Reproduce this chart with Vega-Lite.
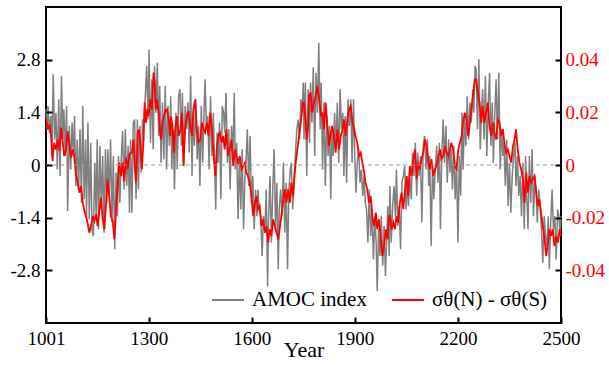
{
"$schema": "https://vega.github.io/schema/vega-lite/v6.json",
"width": 515, "height": 316,
"autosize": {"type": "none"},
"padding": {"left": 46, "top": 7, "right": 48, "bottom": 42},
"config": {"view": {"stroke": "black", "strokeWidth": 2}, "font": "Liberation Serif"},
"datasets": {
"amoc": [
{"t":1001,"v":1.48},{"t":1004,"v":0.95},{"t":1007,"v":1.57},{"t":1011,"v":0.86},{"t":1015,"v":1.30},{"t":1018,"v":0.24},{"t":1022,"v":2.41},{"t":1026,"v":0.68},{"t":1030,"v":1.39},{"t":1034,"v":-0.12},{"t":1038,"v":1.75},{"t":1042,"v":-0.29},{"t":1046,"v":2.37},{"t":1050,"v":0.68},{"t":1053,"v":1.48},{"t":1057,"v":0.24},{"t":1061,"v":1.57},{"t":1064,"v":-1.22},{"t":1069,"v":1.04},{"t":1073,"v":-0.12},{"t":1077,"v":1.13},{"t":1081,"v":0.24},{"t":1084,"v":1.30},{"t":1088,"v":-0.56},{"t":1092,"v":0.68},{"t":1096,"v":-0.65},{"t":1100,"v":0.95},{"t":1104,"v":-1.00},{"t":1108,"v":1.57},{"t":1112,"v":-0.91},{"t":1116,"v":0.68},{"t":1119,"v":-1.36},{"t":1123,"v":1.13},{"t":1127,"v":-1.44},{"t":1131,"v":0.59},{"t":1135,"v":-1.71},{"t":1139,"v":-1.89},{"t":1143,"v":0.06},{"t":1147,"v":-1.36},{"t":1150,"v":0.68},{"t":1154,"v":-1.71},{"t":1158,"v":0.51},{"t":1162,"v":-1.18},{"t":1166,"v":0.24},{"t":1170,"v":-1.80},{"t":1174,"v":0.42},{"t":1178,"v":-1.00},{"t":1181,"v":0.42},{"t":1185,"v":-0.82},{"t":1189,"v":0.68},{"t":1193,"v":-1.53},{"t":1197,"v":0.24},{"t":1201,"v":-2.24},{"t":1205,"v":-0.20},{"t":1209,"v":-1.36},{"t":1212,"v":0.24},{"t":1216,"v":-1.00},{"t":1220,"v":0.15},{"t":1224,"v":0.90},{"t":1228,"v":-0.65},{"t":1232,"v":0.95},{"t":1236,"v":-0.56},{"t":1240,"v":0.51},{"t":1244,"v":-1.27},{"t":1247,"v":0.68},
{"t":1251,"v":-1.27},{"t":1255,"v":1.13},{"t":1259,"v":1.21},{"t":1263,"v":-0.91},{"t":1267,"v":1.21},{"t":1270,"v":-0.65},{"t":1274,"v":1.04},{"t":1278,"v":-0.20},{"t":1282,"v":1.21},{"t":1286,"v":1.13},{"t":1290,"v":1.83},{"t":1294,"v":2.63},{"t":1298,"v":1.21},{"t":1301,"v":3.07},{"t":1305,"v":0.59},{"t":1309,"v":2.28},{"t":1313,"v":0.42},{"t":1317,"v":2.63},{"t":1321,"v":1.39},{"t":1325,"v":2.72},{"t":1329,"v":0.77},{"t":1332,"v":2.10},{"t":1336,"v":0.06},{"t":1340,"v":1.66},{"t":1344,"v":0.15},{"t":1348,"v":2.10},{"t":1352,"v":-0.12},{"t":1356,"v":1.57},{"t":1360,"v":0.51},{"t":1364,"v":1.83},{"t":1367,"v":-0.12},{"t":1371,"v":0.95},{"t":1375,"v":-0.65},{"t":1379,"v":1.39},{"t":1383,"v":-0.12},{"t":1387,"v":1.83},{"t":1391,"v":2.01},{"t":1395,"v":0.51},{"t":1398,"v":1.92},{"t":1402,"v":-0.03},{"t":1406,"v":1.57},{"t":1410,"v":0.95},{"t":1414,"v":1.66},{"t":1418,"v":0.33},{"t":1422,"v":2.37},{"t":1426,"v":-0.29},{"t":1429,"v":1.39},{"t":1433,"v":0.51},{"t":1437,"v":1.75},{"t":1441,"v":0.15},{"t":1445,"v":1.04},{"t":1449,"v":-0.56},{"t":1453,"v":1.57},{"t":1457,"v":0.06},{"t":1461,"v":1.39},{"t":1464,"v":2.28},{"t":1468,"v":0.95},{"t":1472,"v":1.30},{"t":1476,"v":-0.12},{"t":1480,"v":1.83},{"t":1484,"v":0.24},{"t":1488,"v":1.39},{"t":1492,"v":-0.03},{"t":1495,"v":-1.18},{"t":1499,"v":0.86},
{"t":1502,"v":0.06},{"t":1506,"v":1.13},{"t":1510,"v":-0.91},{"t":1514,"v":1.57},{"t":1518,"v":1.39},{"t":1521,"v":0.86},{"t":1525,"v":1.92},{"t":1529,"v":0.06},{"t":1533,"v":0.95},{"t":1537,"v":-0.65},{"t":1541,"v":1.04},{"t":1545,"v":0.24},{"t":1549,"v":1.92},{"t":1552,"v":-0.12},{"t":1556,"v":0.59},{"t":1560,"v":-1.44},{"t":1564,"v":0.24},{"t":1568,"v":-1.18},{"t":1572,"v":0.42},{"t":1576,"v":-1.71},{"t":1580,"v":-0.29},{"t":1583,"v":0.06},{"t":1587,"v":0.95},{"t":1591,"v":-0.56},{"t":1595,"v":0.77},{"t":1599,"v":-1.00},{"t":1603,"v":-0.29},{"t":1607,"v":-1.71},{"t":1611,"v":-0.65},{"t":1615,"v":-1.36},{"t":1618,"v":-0.65},{"t":1622,"v":-1.18},{"t":1626,"v":-1.36},{"t":1630,"v":-2.42},{"t":1634,"v":-1.36},{"t":1638,"v":-1.80},{"t":1642,"v":-0.65},{"t":1646,"v":-3.22},{"t":1649,"v":-1.36},{"t":1653,"v":-0.29},{"t":1657,"v":-2.06},{"t":1661,"v":-0.65},{"t":1665,"v":0.42},{"t":1669,"v":-1.71},{"t":1673,"v":-0.47},{"t":1677,"v":-2.77},{"t":1680,"v":-1.18},{"t":1684,"v":-0.65},{"t":1688,"v":-1.36},{"t":1692,"v":0.06},{"t":1696,"v":-1.80},{"t":1700,"v":-0.47},{"t":1704,"v":-2.77},{"t":1708,"v":-0.65},{"t":1712,"v":-0.12},{"t":1715,"v":0.06},{"t":1719,"v":-1.18},{"t":1723,"v":-0.47},{"t":1727,"v":0.33},{"t":1731,"v":0.95},{"t":1735,"v":1.21},{"t":1739,"v":0.68},{"t":1743,"v":1.75},{"t":1746,"v":1.39},{"t":1750,"v":2.19},
{"t":1752,"v":0.68},{"t":1756,"v":2.19},{"t":1760,"v":-0.29},{"t":1764,"v":2.01},{"t":1768,"v":0.59},{"t":1771,"v":2.19},{"t":1775,"v":1.13},{"t":1779,"v":2.59},{"t":1783,"v":0.24},{"t":1787,"v":2.45},{"t":1791,"v":1.39},{"t":1795,"v":3.25},{"t":1799,"v":0.95},{"t":1802,"v":2.19},{"t":1806,"v":-0.12},{"t":1810,"v":1.66},{"t":1814,"v":-0.56},{"t":1818,"v":1.30},{"t":1822,"v":0.24},{"t":1826,"v":1.04},{"t":1830,"v":-0.91},{"t":1833,"v":0.95},{"t":1837,"v":0.24},{"t":1841,"v":1.39},{"t":1845,"v":0.42},{"t":1849,"v":1.66},{"t":1853,"v":0.06},{"t":1857,"v":2.01},{"t":1861,"v":0.95},{"t":1865,"v":1.39},{"t":1868,"v":-0.29},{"t":1872,"v":1.30},{"t":1876,"v":-0.47},{"t":1880,"v":1.75},{"t":1884,"v":1.04},{"t":1888,"v":1.75},{"t":1892,"v":0.06},{"t":1896,"v":1.75},{"t":1899,"v":0.51},{"t":1903,"v":-0.74},{"t":1907,"v":0.06},{"t":1911,"v":0.42},{"t":1915,"v":-0.47},{"t":1919,"v":-0.12},{"t":1923,"v":-0.82},{"t":1927,"v":-0.29},{"t":1930,"v":-1.00},{"t":1934,"v":-1.18},{"t":1938,"v":-2.06},{"t":1942,"v":-0.65},{"t":1946,"v":-1.89},{"t":1950,"v":-1.18},{"t":1954,"v":-2.51},{"t":1958,"v":-1.36},{"t":1962,"v":-2.06},{"t":1965,"v":-3.35},{"t":1969,"v":-1.71},{"t":1973,"v":-2.42},{"t":1977,"v":-1.36},{"t":1981,"v":-2.68},{"t":1985,"v":-1.62},{"t":1989,"v":-2.95},{"t":1993,"v":-1.89},{"t":1996,"v":-1.09},{"t":2000,"v":-2.42},
{"t":2002,"v":-0.56},{"t":2006,"v":-2.06},{"t":2010,"v":-1.09},{"t":2014,"v":-0.56},{"t":2018,"v":-1.36},{"t":2021,"v":-0.12},{"t":2025,"v":-1.62},{"t":2029,"v":-1.09},{"t":2033,"v":-2.24},{"t":2037,"v":-0.47},{"t":2041,"v":-0.29},{"t":2045,"v":-0.03},{"t":2049,"v":-1.18},{"t":2052,"v":-0.47},{"t":2056,"v":-1.09},{"t":2060,"v":-0.29},{"t":2064,"v":-0.91},{"t":2068,"v":0.33},{"t":2072,"v":-0.29},{"t":2076,"v":0.59},{"t":2080,"v":-0.82},{"t":2083,"v":0.33},{"t":2087,"v":-0.29},{"t":2091,"v":0.24},{"t":2095,"v":-1.53},{"t":2099,"v":0.51},{"t":2103,"v":0.77},{"t":2107,"v":-0.12},{"t":2111,"v":0.68},{"t":2115,"v":-0.56},{"t":2118,"v":0.24},{"t":2122,"v":-2.15},{"t":2126,"v":-0.03},{"t":2130,"v":-0.91},{"t":2134,"v":-0.12},{"t":2138,"v":0.51},{"t":2142,"v":-0.47},{"t":2146,"v":0.59},{"t":2149,"v":-1.71},{"t":2153,"v":0.24},{"t":2157,"v":1.21},{"t":2161,"v":0.06},{"t":2165,"v":1.04},{"t":2169,"v":-0.47},{"t":2173,"v":0.68},{"t":2177,"v":-0.20},{"t":2180,"v":0.42},{"t":2184,"v":-0.65},{"t":2188,"v":0.51},{"t":2192,"v":-0.91},{"t":2196,"v":0.06},{"t":2200,"v":-2.06},{"t":2204,"v":0.24},{"t":2208,"v":-0.82},{"t":2212,"v":1.39},{"t":2215,"v":-0.12},{"t":2219,"v":1.30},{"t":2223,"v":0.51},{"t":2227,"v":1.83},{"t":2231,"v":0.68},{"t":2235,"v":1.66},{"t":2239,"v":1.13},{"t":2243,"v":2.01},{"t":2246,"v":1.39},{"t":2250,"v":2.63},
{"t":2253,"v":2.54},{"t":2257,"v":0.95},{"t":2261,"v":2.81},{"t":2265,"v":0.42},{"t":2269,"v":1.48},{"t":2272,"v":2.01},{"t":2276,"v":0.68},{"t":2280,"v":2.37},{"t":2284,"v":0.24},{"t":2288,"v":1.57},{"t":2292,"v":2.45},{"t":2296,"v":0.51},{"t":2300,"v":1.66},{"t":2303,"v":0.06},{"t":2307,"v":1.30},{"t":2311,"v":2.28},{"t":2315,"v":0.68},{"t":2319,"v":2.45},{"t":2323,"v":-0.12},{"t":2327,"v":0.95},{"t":2331,"v":0.24},{"t":2334,"v":0.59},{"t":2338,"v":-0.56},{"t":2342,"v":0.68},{"t":2346,"v":-1.09},{"t":2350,"v":0.06},{"t":2354,"v":-1.27},{"t":2358,"v":-0.29},{"t":2362,"v":0.24},{"t":2366,"v":0.59},{"t":2369,"v":-0.56},{"t":2373,"v":0.24},{"t":2377,"v":-0.82},{"t":2381,"v":-0.29},{"t":2385,"v":-1.36},{"t":2389,"v":0.06},{"t":2393,"v":-1.71},{"t":2397,"v":0.24},{"t":2400,"v":-0.74},{"t":2404,"v":-1.71},{"t":2408,"v":0.24},{"t":2412,"v":-1.00},{"t":2416,"v":0.42},{"t":2420,"v":-1.36},{"t":2424,"v":-0.29},{"t":2428,"v":-0.82},{"t":2431,"v":-1.53},{"t":2435,"v":-0.65},{"t":2439,"v":-1.09},{"t":2443,"v":-1.71},{"t":2447,"v":-2.60},{"t":2451,"v":-1.36},{"t":2455,"v":-1.89},{"t":2459,"v":-2.15},{"t":2463,"v":-1.36},{"t":2466,"v":-2.77},{"t":2470,"v":-1.53},{"t":2474,"v":-0.65},{"t":2478,"v":-1.71},{"t":2482,"v":-1.36},{"t":2486,"v":-2.51},{"t":2490,"v":-1.18},{"t":2494,"v":-1.36},{"t":2497,"v":-1.89},{"t":2500,"v":-1.36}
],
"sig": [
{"t":1001,"s":0.0180},{"t":1006,"s":0.0135},{"t":1011,"s":0.0154},{"t":1016,"s":0.0110},{"t":1020,"s":0.0015},{"t":1025,"s":0.0085},{"t":1030,"s":0.0059},{"t":1035,"s":0.0097},{"t":1040,"s":0.0053},{"t":1045,"s":0.0142},{"t":1050,"s":0.0085},{"t":1054,"s":0.0034},{"t":1059,"s":0.0059},{"t":1064,"s":0.0129},{"t":1069,"s":0.0072},{"t":1074,"s":0.0028},{"t":1079,"s":0.0059},{"t":1083,"s":0.0034},{"t":1088,"s":-0.0029},{"t":1093,"s":-0.0067},{"t":1098,"s":-0.0105},{"t":1103,"s":-0.0080},{"t":1108,"s":-0.0143},{"t":1113,"s":-0.0175},{"t":1117,"s":-0.0194},{"t":1122,"s":-0.0219},{"t":1127,"s":-0.0257},{"t":1132,"s":-0.0232},{"t":1137,"s":-0.0194},{"t":1142,"s":-0.0213},{"t":1147,"s":-0.0187},{"t":1151,"s":-0.0232},{"t":1156,"s":-0.0175},{"t":1161,"s":-0.0124},{"t":1166,"s":-0.0206},{"t":1171,"s":-0.0244},{"t":1176,"s":-0.0143},{"t":1180,"s":-0.0054},{"t":1185,"s":-0.0118},{"t":1190,"s":-0.0194},{"t":1195,"s":-0.0213},{"t":1200,"s":-0.0282},{"t":1205,"s":-0.0168},{"t":1210,"s":-0.0067},{"t":1214,"s":0.0009},{"t":1219,"s":-0.0042},{"t":1224,"s":0.0009},{"t":1229,"s":-0.0061},{"t":1234,"s":0.0028},{"t":1239,"s":-0.0016},{"t":1244,"s":0.0041},{"t":1248,"s":0.0047},
{"t":1251,"s":0.0047},{"t":1256,"s":0.0097},{"t":1259,"s":-0.0004},{"t":1263,"s":-0.0067},{"t":1266,"s":0.0034},{"t":1268,"s":0.0123},{"t":1272,"s":0.0135},{"t":1275,"s":0.0085},{"t":1280,"s":-0.0016},{"t":1285,"s":0.0097},{"t":1288,"s":0.0237},{"t":1292,"s":0.0161},{"t":1296,"s":0.0211},{"t":1300,"s":0.0186},{"t":1304,"s":0.0249},{"t":1309,"s":0.0211},{"t":1314,"s":0.0351},{"t":1317,"s":0.0313},{"t":1321,"s":0.0211},{"t":1324,"s":0.0249},{"t":1329,"s":0.0199},{"t":1333,"s":0.0123},{"t":1336,"s":0.0097},{"t":1340,"s":0.0161},{"t":1344,"s":0.0186},{"t":1348,"s":0.0205},{"t":1353,"s":0.0211},{"t":1358,"s":0.0173},{"t":1363,"s":0.0110},{"t":1365,"s":0.0186},{"t":1369,"s":0.0148},{"t":1373,"s":0.0047},{"t":1377,"s":0.0135},{"t":1382,"s":0.0186},{"t":1387,"s":0.0110},{"t":1392,"s":0.0135},{"t":1397,"s":0.0199},{"t":1401,"s":-0.0004},{"t":1406,"s":0.0135},{"t":1411,"s":0.0186},{"t":1416,"s":0.0205},{"t":1421,"s":0.0148},{"t":1426,"s":0.0110},{"t":1430,"s":0.0211},{"t":1435,"s":0.0249},{"t":1440,"s":0.0135},{"t":1445,"s":0.0085},{"t":1450,"s":0.0097},{"t":1455,"s":0.0161},{"t":1460,"s":0.0135},{"t":1464,"s":0.0123},{"t":1469,"s":0.0161},{"t":1474,"s":0.0110},{"t":1479,"s":0.0199},{"t":1484,"s":0.0135},{"t":1489,"s":0.0034},{"t":1494,"s":-0.0042},{"t":1498,"s":0.0059},
{"t":1502,"s":0.0110},{"t":1507,"s":0.0123},{"t":1512,"s":0.0085},{"t":1517,"s":0.0110},{"t":1521,"s":0.0059},{"t":1526,"s":0.0135},{"t":1531,"s":0.0034},{"t":1536,"s":0.0059},{"t":1541,"s":0.0097},{"t":1546,"s":-0.0004},{"t":1551,"s":0.0059},{"t":1555,"s":0.0034},{"t":1560,"s":0.0009},{"t":1565,"s":0.0034},{"t":1570,"s":-0.0016},{"t":1575,"s":-0.0004},{"t":1580,"s":0.0009},{"t":1584,"s":-0.0029},{"t":1589,"s":-0.0042},{"t":1594,"s":-0.0067},{"t":1599,"s":-0.0118},{"t":1604,"s":-0.0194},{"t":1609,"s":-0.0143},{"t":1614,"s":-0.0118},{"t":1618,"s":-0.0168},{"t":1623,"s":-0.0156},{"t":1628,"s":-0.0232},{"t":1633,"s":-0.0206},{"t":1638,"s":-0.0257},{"t":1643,"s":-0.0232},{"t":1648,"s":-0.0295},{"t":1652,"s":-0.0244},{"t":1657,"s":-0.0270},{"t":1662,"s":-0.0206},{"t":1667,"s":-0.0232},{"t":1672,"s":-0.0257},{"t":1677,"s":-0.0282},{"t":1681,"s":-0.0244},{"t":1686,"s":-0.0194},{"t":1691,"s":-0.0143},{"t":1696,"s":-0.0092},{"t":1701,"s":-0.0143},{"t":1706,"s":-0.0092},{"t":1711,"s":-0.0143},{"t":1715,"s":-0.0067},{"t":1720,"s":-0.0118},{"t":1725,"s":-0.0029},{"t":1730,"s":0.0034},{"t":1735,"s":0.0085},{"t":1740,"s":0.0135},{"t":1745,"s":0.0186},{"t":1749,"s":0.0237},
{"t":1752,"s":0.0237},{"t":1757,"s":0.0161},{"t":1760,"s":0.0097},{"t":1764,"s":0.0148},{"t":1767,"s":0.0262},{"t":1771,"s":0.0275},{"t":1776,"s":0.0199},{"t":1781,"s":0.0237},{"t":1786,"s":0.0262},{"t":1791,"s":0.0300},{"t":1796,"s":0.0249},{"t":1801,"s":0.0186},{"t":1805,"s":0.0199},{"t":1810,"s":0.0135},{"t":1815,"s":0.0237},{"t":1820,"s":0.0148},{"t":1825,"s":0.0072},{"t":1830,"s":0.0123},{"t":1834,"s":0.0148},{"t":1839,"s":0.0110},{"t":1844,"s":0.0047},{"t":1849,"s":0.0135},{"t":1854,"s":0.0059},{"t":1859,"s":0.0110},{"t":1864,"s":0.0135},{"t":1868,"s":0.0173},{"t":1873,"s":0.0110},{"t":1878,"s":0.0173},{"t":1883,"s":0.0211},{"t":1888,"s":0.0224},{"t":1893,"s":0.0161},{"t":1898,"s":0.0135},{"t":1902,"s":0.0110},{"t":1907,"s":0.0085},{"t":1912,"s":0.0034},{"t":1917,"s":0.0047},{"t":1922,"s":0.0009},{"t":1927,"s":-0.0029},{"t":1931,"s":-0.0067},{"t":1936,"s":-0.0092},{"t":1941,"s":-0.0143},{"t":1946,"s":-0.0118},{"t":1951,"s":-0.0194},{"t":1956,"s":-0.0232},{"t":1961,"s":-0.0181},{"t":1965,"s":-0.0244},{"t":1970,"s":-0.0206},{"t":1975,"s":-0.0270},{"t":1980,"s":-0.0346},{"t":1985,"s":-0.0308},{"t":1990,"s":-0.0244},{"t":1995,"s":-0.0282},{"t":1999,"s":-0.0194},
{"t":2002,"s":-0.0194},{"t":2007,"s":-0.0244},{"t":2012,"s":-0.0219},{"t":2017,"s":-0.0244},{"t":2021,"s":-0.0194},{"t":2026,"s":-0.0219},{"t":2031,"s":-0.0143},{"t":2036,"s":-0.0105},{"t":2041,"s":-0.0168},{"t":2046,"s":-0.0092},{"t":2051,"s":-0.0042},{"t":2055,"s":-0.0118},{"t":2060,"s":-0.0004},{"t":2065,"s":-0.0042},{"t":2070,"s":0.0022},{"t":2075,"s":0.0059},{"t":2080,"s":-0.0054},{"t":2084,"s":0.0009},{"t":2089,"s":-0.0016},{"t":2094,"s":0.0022},{"t":2099,"s":0.0047},{"t":2104,"s":0.0097},{"t":2109,"s":0.0072},{"t":2114,"s":0.0009},{"t":2118,"s":-0.0016},{"t":2123,"s":0.0022},{"t":2128,"s":-0.0042},{"t":2133,"s":-0.0016},{"t":2138,"s":-0.0004},{"t":2143,"s":0.0034},{"t":2148,"s":0.0059},{"t":2152,"s":0.0022},{"t":2157,"s":0.0034},{"t":2162,"s":0.0072},{"t":2167,"s":0.0047},{"t":2172,"s":0.0034},{"t":2177,"s":0.0059},{"t":2181,"s":0.0085},{"t":2186,"s":0.0059},{"t":2191,"s":-0.0004},{"t":2196,"s":-0.0016},{"t":2201,"s":0.0059},{"t":2206,"s":0.0085},{"t":2211,"s":0.0110},{"t":2215,"s":0.0161},{"t":2220,"s":0.0199},{"t":2225,"s":0.0173},{"t":2230,"s":0.0110},{"t":2235,"s":0.0161},{"t":2240,"s":0.0224},{"t":2245,"s":0.0275},{"t":2249,"s":0.0325},
{"t":2253,"s":0.0325},{"t":2258,"s":0.0275},{"t":2263,"s":0.0237},{"t":2268,"s":0.0161},{"t":2272,"s":0.0224},{"t":2277,"s":0.0161},{"t":2282,"s":0.0199},{"t":2287,"s":0.0237},{"t":2292,"s":0.0148},{"t":2297,"s":0.0110},{"t":2302,"s":0.0161},{"t":2306,"s":0.0123},{"t":2311,"s":0.0097},{"t":2316,"s":0.0173},{"t":2321,"s":0.0161},{"t":2326,"s":0.0110},{"t":2331,"s":0.0135},{"t":2335,"s":0.0085},{"t":2340,"s":0.0047},{"t":2345,"s":0.0059},{"t":2350,"s":0.0034},{"t":2355,"s":0.0009},{"t":2360,"s":0.0072},{"t":2365,"s":0.0097},{"t":2369,"s":0.0135},{"t":2374,"s":0.0059},{"t":2379,"s":0.0009},{"t":2384,"s":-0.0016},{"t":2389,"s":-0.0054},{"t":2394,"s":-0.0143},{"t":2399,"s":-0.0029},{"t":2403,"s":-0.0105},{"t":2408,"s":-0.0042},{"t":2413,"s":-0.0067},{"t":2418,"s":-0.0054},{"t":2423,"s":-0.0042},{"t":2428,"s":-0.0105},{"t":2432,"s":-0.0156},{"t":2437,"s":-0.0130},{"t":2442,"s":-0.0181},{"t":2447,"s":-0.0232},{"t":2452,"s":-0.0282},{"t":2457,"s":-0.0346},{"t":2462,"s":-0.0295},{"t":2466,"s":-0.0244},{"t":2471,"s":-0.0270},{"t":2476,"s":-0.0244},{"t":2481,"s":-0.0308},{"t":2486,"s":-0.0270},{"t":2491,"s":-0.0295},{"t":2496,"s":-0.0244},{"t":2500,"s":-0.0270}
]
},
"layer": [
{
"data": {"name": "amoc"},
"mark": {"type": "line", "strokeWidth": 1.5},
"encoding": {
"x": {"field": "t", "type": "quantitative", "scale": {"domain": [1001, 2500], "nice": false, "zero": false},
"axis": {"orient": "bottom", "values": [1001, 1300, 1600, 1900, 2200, 2500], "labelExpr": "'' + datum.value", "title": "Year", "domain": false, "grid": false, "zindex": 2,
"tickSize": -6, "tickWidth": 2, "tickColor": "black", "labelPadding": 12, "labelFontSize": 19, "labelColor": "black", "labelFlush": false,
"titleFontSize": 22, "titleFontWeight": "normal", "titleColor": "black", "titlePadding": -9}},
"y": {"field": "v", "type": "quantitative", "scale": {"domain": [-4.2, 4.2], "nice": false, "zero": false},
"axis": {"orient": "left", "values": [-2.8, -1.4, 0, 1.4, 2.8], "labelExpr": "'' + datum.value", "title": null, "domain": false, "grid": false, "zindex": 2,
"tickSize": -6, "tickWidth": 2, "tickColor": "black", "labelPadding": 12, "labelFontSize": 19, "labelColor": "black"}},
"color": {"datum": "AMOC index", "type": "nominal",
"scale": {"domain": ["AMOC index", "σθ(N) - σθ(S)"], "range": ["#808080", "#ff0000"]},
"legend": {"title": null, "orient": "bottom-right", "direction": "horizontal", "offset": 13, "padding": 0,
"symbolType": "stroke", "symbolSize": 1024, "symbolStrokeWidth": 2, "labelFontSize": 21, "labelColor": "black",
"labelOffset": 7, "columnPadding": 21, "labelLimit": 300}}
}
},
{
"data": {"name": "sig"},
"mark": {"type": "line", "strokeWidth": 1.8},
"encoding": {
"x": {"field": "t", "type": "quantitative", "scale": {"domain": [1001, 2500], "nice": false, "zero": false},
"axis": {"orient": "bottom", "values": [1001, 1300, 1600, 1900, 2200, 2500], "labelExpr": "'' + datum.value", "title": "Year", "domain": false, "grid": false, "zindex": 2,
"tickSize": -6, "tickWidth": 2, "tickColor": "black", "labelPadding": 12, "labelFontSize": 19, "labelColor": "black", "labelFlush": false,
"titleFontSize": 22, "titleFontWeight": "normal", "titleColor": "black", "titlePadding": -9}},
"y": {"field": "s", "type": "quantitative", "scale": {"domain": [-0.06, 0.06], "nice": false, "zero": false},
"axis": {"orient": "right", "values": [-0.04, -0.02, 0, 0.02, 0.04], "labelExpr": "'' + datum.value", "title": null, "domain": false, "grid": false, "zindex": 2,
"tickSize": -6, "tickWidth": 2, "tickColor": "black", "labelPadding": 10, "labelFontSize": 19, "labelColor": "#ff0000"}},
"color": {"datum": "σθ(N) - σθ(S)", "type": "nominal"}
}
},
{
"data": {"values": [{}]},
"mark": {"type": "rule", "color": "#9a9a9a", "strokeDash": [4, 3], "strokeWidth": 1},
"encoding": {"y": {"datum": 0, "type": "quantitative", "scale": {"domain": [-1, 1]}, "axis": null}}
}
],
"resolve": {"scale": {"y": "independent"}}
}
